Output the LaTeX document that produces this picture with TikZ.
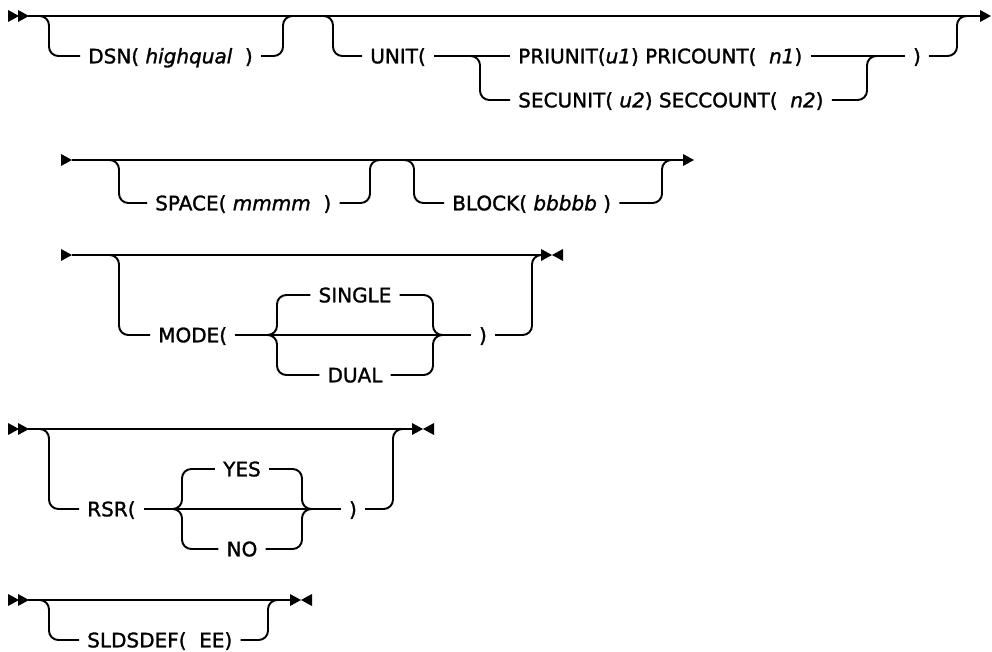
\documentclass[tikz,border=0pt]{standalone}
\usepackage{fontspec}
\setmainfont[FakeBold=1.4]{DejaVu Sans}
\usetikzlibrary{calc}
\tikzset{
  rail/.style={line width=1.45pt, rounded corners=7pt},
  lbl/.style={inner xsep=6pt, inner ysep=0pt, text height=11pt, text depth=0pt, font=\fontsize{15}{18}\selectfont},
  fwd/.pic={\fill (0,0) -- (-11,-6) -- (-11,6) -- cycle;},
  bwd/.pic={\fill (0,0) -- (11,-6) -- (11,6) -- cycle;},
}
\begin{document}
\begin{tikzpicture}[x=0.75pt,y=-0.75pt]
\useasboundingbox (0,0) rectangle (992,652);
% ---------------- Row 1
\coordinate (s1) at (28,16); \coordinate (e1) at (982,16);
\pic at (19,16) {fwd}; \pic at (29,16) {fwd};
\draw[rail] (s1) -- (e1);
\pic at (991,16) {fwd};
\node[lbl, anchor=west] (dsn) at (80,56) {DSN( \textit{highqual}\ \ )};
\coordinate (dsnL) at (49,16); \coordinate (dsnR) at (283,16);
\draw[rail] ($(dsnL)+(-14,0)$) -- (dsnL) |- (dsn.west);
\draw[rail] (dsn.east) -| (dsnR) -- ($(dsnR)+(14,0)$);
\node[lbl, anchor=west] (unit) at (362,56) {UNIT(};
\node[lbl, anchor=west] (pri) at (510,56) {PRIUNIT(\textit{u1}) PRICOUNT(\ \ \textit{n1})};
\node[lbl, anchor=west] (sec) at (510,100) {SECUNIT( \textit{u2}) SECCOUNT(\ \ \textit{n2})};
\node[lbl] (rp1) at (917,56) {)};
\coordinate (unitL) at (333,16); \coordinate (unitR) at (957,16);
\coordinate (fork1) at (480,56); \coordinate (join1) at (867,56);
\draw[rail] ($(unitL)+(-14,0)$) -- (unitL) |- (unit.west);
\draw[rail] (unit.east) -- (pri.west);
\draw[rail] ($(fork1)+(-14,0)$) -- (fork1) |- (sec.west);
\draw[rail] (sec.east) -| (join1) -- ($(join1)+(14,0)$);
\draw[rail] (pri.east) -- (rp1.west);
\draw[rail] (rp1.east) -| (unitR) -- ($(unitR)+(14,0)$);
% ---------------- Row 2
\coordinate (s2) at (72,160); \coordinate (e2) at (684,160);
\pic at (72,160) {fwd};
\draw[rail] (s2) -- (e2);
\pic at (694,160) {fwd};
\node[lbl, anchor=west] (space) at (147,203) {SPACE( \textit{mmmm}\ \ )};
\node[lbl, anchor=west] (block) at (444,203) {BLOCK( \textit{bbbbb} )};
\coordinate (spL) at (119,160); \coordinate (spR) at (370,160);
\coordinate (blL) at (414,160); \coordinate (blR) at (662,160);
\draw[rail] ($(spL)+(-14,0)$) -- (spL) |- (space.west);
\draw[rail] (space.east) -| (spR) -- ($(spR)+(14,0)$);
\draw[rail] ($(blL)+(-14,0)$) -- (blL) |- (block.west);
\draw[rail] (block.east) -| (blR) -- ($(blR)+(14,0)$);
% ---------------- Row 3
\coordinate (s3) at (72,255); \coordinate (e3) at (545,255);
\pic at (72,255) {fwd};
\draw[rail] (s3) -- (e3);
\pic at (552,255) {fwd}; \pic at (552,255) {bwd};
\node[lbl, anchor=west] (mode) at (150,335) {MODE(};
\node[lbl] (single) at (355,295) {SINGLE};
\node[lbl] (dual) at (355,375) {DUAL};
\node[lbl] (rp3) at (483,335) {)};
\coordinate (mL) at (119,255); \coordinate (mR) at (532,255);
\coordinate (bl3) at (277,335); \coordinate (br3) at (433,335);
\draw[rail] ($(mL)+(-14,0)$) -- (mL) |- (mode.west);
\draw[rail] (mode.east) -- (rp3.west);
\draw[rail] ($(bl3)+(-10,0)$) -- (bl3) |- (single.west);
\draw[rail] ($(bl3)+(-10,0)$) -- (bl3) |- (dual.west);
\draw[rail] (single.east) -| (br3) -- ($(br3)+(10,0)$);
\draw[rail] (dual.east) -| (br3) -- ($(br3)+(10,0)$);
\draw[rail] (rp3.east) -| (mR) -- ($(mR)+(10,0)$);
% ---------------- Row 4
\coordinate (s4) at (28,429); \coordinate (e4) at (417,429);
\pic at (19,429) {fwd}; \pic at (29,429) {fwd};
\draw[rail] (s4) -- (e4);
\pic at (423,429) {fwd}; \pic at (423,429) {bwd};
\node[lbl, anchor=west] (rsr) at (79,509) {RSR(};
\node[lbl] (yes) at (242,469) {YES};
\node[lbl] (no) at (242,549) {NO};
\node[lbl] (rp4) at (353,509) {)};
\coordinate (rL) at (49,429); \coordinate (rR) at (393,429);
\coordinate (bl4) at (182,509); \coordinate (br4) at (302,509);
\draw[rail] ($(rL)+(-14,0)$) -- (rL) |- (rsr.west);
\draw[rail] (rsr.east) -- (rp4.west);
\draw[rail] ($(bl4)+(-10,0)$) -- (bl4) |- (yes.west);
\draw[rail] ($(bl4)+(-10,0)$) -- (bl4) |- (no.west);
\draw[rail] (yes.east) -| (br4) -- ($(br4)+(10,0)$);
\draw[rail] (no.east) -| (br4) -- ($(br4)+(10,0)$);
\draw[rail] (rp4.east) -| (rR) -- ($(rR)+(10,0)$);
% ---------------- Row 5
\coordinate (s5) at (28,600); \coordinate (e5) at (295,600);
\pic at (19,600) {fwd}; \pic at (29,600) {fwd};
\draw[rail] (s5) -- (e5);
\pic at (301,600) {fwd}; \pic at (301,600) {bwd};
\node[lbl, anchor=west] (sld) at (79,640) {SLDSDEF(\ \ EE)};
\coordinate (sL) at (49,600); \coordinate (sR) at (268,600);
\draw[rail] ($(sL)+(-14,0)$) -- (sL) |- (sld.west);
\draw[rail] (sld.east) -| (sR) -- ($(sR)+(10,0)$);
\end{tikzpicture}
\end{document}
